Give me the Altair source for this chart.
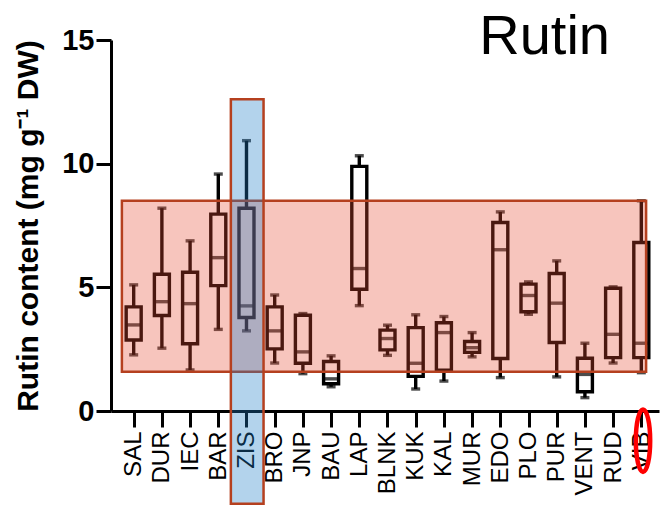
import altair as alt
import pandas as pd

# ---- data ----
categories = ["SAL", "DUR", "IEC", "BAR", "ZIS", "BRO", "JNP", "BAU", "LAP", "BLNK",
              "KUK", "KAL", "MUR", "EDO", "PLO", "PUR", "VENT", "RUD", "VIB"]
whisker_low = [2.27, 2.54, 1.66, 3.30, 3.24, 1.94, 1.51, 0.98, 4.26, 2.25,
               0.89, 1.21, 2.19, 1.35, 3.91, 1.38, 0.54, 1.94, 1.55]
q1 = [2.87, 3.86, 2.72, 5.07, 3.78, 2.51, 1.93, 1.10, 4.92, 2.47,
      1.40, 1.65, 2.37, 2.12, 4.01, 2.77, 0.78, 2.16, 2.16]
median = [3.48, 4.42, 4.34, 6.20, 4.25, 3.24, 2.39, 1.30, 5.76, 2.93,
          1.93, 3.17, 2.56, 6.52, 4.67, 4.36, 1.48, 3.10, 2.74]
q3 = [4.21, 5.53, 5.61, 7.96, 8.20, 4.21, 3.87, 2.00, 9.89, 3.27,
      3.37, 3.57, 2.81, 7.62, 5.13, 5.56, 2.13, 4.96, 6.81]
whisker_high = [5.10, 8.20, 6.88, 9.58, 10.93, 4.69, 3.94, 2.23, 10.32, 3.47,
                3.89, 3.82, 3.17, 8.05, 5.22, 6.07, 2.74, 5.02, 8.50]

# highlighted regions (category-index range, value range)
range_band = {"x0": -0.418, "x1": 18.17, "y0": 1.59, "y1": 8.50}
zis_band = {"x0": 3.446, "x1": 4.605, "y0": -3.75, "y1": 12.6}
vib_mark = {"idx": 18.06, "y": -1.2}

y_ticks = [0, 5, 10, 15]
chart_title = "Rutin"

df = pd.DataFrame({
    "idx": list(range(len(categories))),
    "cat": categories,
    "lo": whisker_low, "q1": q1, "med": median, "q3": q3, "hi": whisker_high,
})

FONT = "Liberation Sans"
label_expr = "[" + ",".join(f"'{c}'" for c in categories) + "][datum.value]"

xscale = alt.Scale(domain=[-0.627, 18.45], nice=False, zero=False)
yscale = alt.Scale(domain=[0, 15], nice=False, zero=True)

xaxis = alt.Axis(values=list(range(len(categories))), labelExpr=label_expr,
                 labelAngle=270, labelFontSize=24, labelFont=FONT, labelColor="black",
                 tickSize=16, tickWidth=3, tickColor="black", domainWidth=3,
                 domainColor="black", labelPadding=4, grid=False,
                 labelOverlap=False, labelFlush=False, title=None)
ytitle = "Rutin content (mg g\u207b\u00b9 DW)"
yaxis = alt.Axis(values=y_ticks, labelFontSize=29, labelFontWeight="bold", labelFont=FONT,
                 labelColor="black", tickSize=15, tickWidth=3, tickColor="black",
                 domainWidth=3, domainColor="black", labelPadding=2, grid=False,
                 title=ytitle, titleFontSize=30, titleFontWeight="bold", titleFont=FONT,
                 titleColor="black", titlePadding=18)

LW = 3.4
base = alt.Chart(df)
X = alt.X("idx:Q", scale=xscale, axis=xaxis)

whisk = base.mark_rule(color="black", strokeWidth=LW).encode(
    x=X, y=alt.Y("lo:Q", scale=yscale, axis=yaxis), y2="hi:Q")
cap_lo = base.mark_tick(orient="horizontal", size=9, thickness=LW, color="black").encode(
    x=X, y=alt.Y("lo:Q", scale=yscale, axis=yaxis))
cap_hi = base.mark_tick(orient="horizontal", size=9, thickness=LW, color="black").encode(
    x=X, y=alt.Y("hi:Q", scale=yscale, axis=yaxis))
box = base.mark_bar(size=15, fill="white", stroke="black", strokeWidth=LW).encode(
    x=X, y=alt.Y("q1:Q", scale=yscale, axis=yaxis), y2="q3:Q")
med = base.mark_tick(orient="horizontal", size=15, thickness=LW, color="black").encode(
    x=X, y=alt.Y("med:Q", scale=yscale, axis=yaxis))

rdf = pd.DataFrame([range_band])
red_rect = alt.Chart(rdf).mark_rect(fill="#e74b32", fillOpacity=0.32, stroke="#b5401f",
                                    strokeWidth=2.5).encode(
    x=alt.X("x0:Q", scale=xscale, axis=xaxis), x2="x1:Q",
    y=alt.Y("y0:Q", scale=yscale, axis=yaxis), y2="y1:Q")

bdf = pd.DataFrame([zis_band])
blue_rect = alt.Chart(bdf).mark_rect(fill="#1f7dc7", fillOpacity=0.34, stroke="#b5401f",
                                     strokeWidth=2.5).encode(
    x=alt.X("x0:Q", scale=xscale, axis=xaxis), x2="x1:Q",
    y=alt.Y("y0:Q", scale=yscale, axis=yaxis), y2="y1:Q")

ellipse_path = "M0,-1 A0.23,1 0 1,1 0,1 A0.23,1 0 1,1 0,-1 Z"
vdf = pd.DataFrame([vib_mark])
ellipse = alt.Chart(vdf).mark_point(shape=ellipse_path, size=3900, filled=False,
                                    color="#ff0000", strokeWidth=4.5, opacity=1).encode(
    x=alt.X("idx:Q", scale=xscale, axis=xaxis),
    y=alt.Y("y:Q", scale=yscale, axis=yaxis))

title_text = alt.Chart(pd.DataFrame({"t": [chart_title]})).mark_text(
    fontSize=56, font=FONT, align="right", baseline="alphabetic", color="black"
).encode(text="t:N", x=alt.value(499), y=alt.value(14))

chart = alt.layer(whisk, cap_lo, cap_hi, box, med, red_rect, blue_rect, ellipse,
                  title_text).properties(
    width=548, height=371,
    padding={"left": 5, "top": 1, "right": 0, "bottom": 0},
    background="white",
).configure_view(stroke=None)

chart.save("out.html", embed_options={"renderer": "svg", "actions": False})
